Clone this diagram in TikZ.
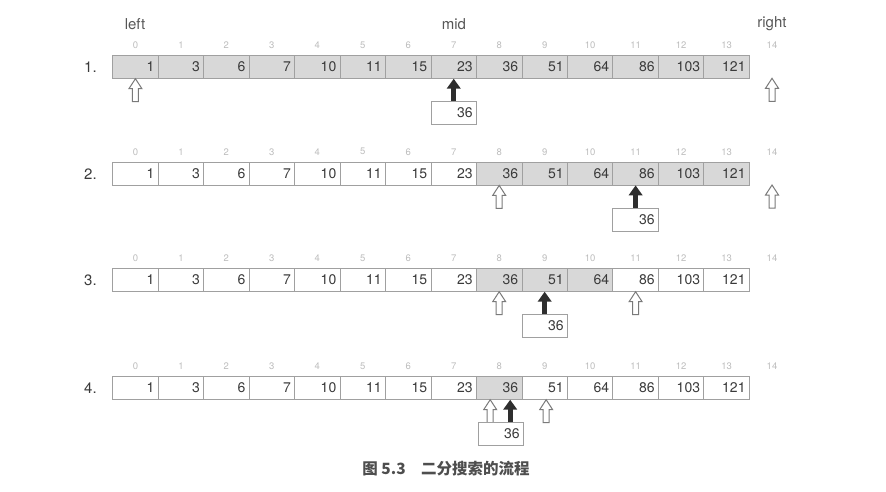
\documentclass[tikz,border=0pt]{standalone}
\usepackage{fontspec}
\setmainfont{TeX Gyre Heros}
\newfontfamily\cjk{Noto Sans CJK SC}
\usetikzlibrary{arrows.meta,calc}
\definecolor{txt}{HTML}{3A3A3A}
\definecolor{shade}{HTML}{D8D8D8}
\definecolor{bord}{HTML}{A0A0A0}
\definecolor{idx}{HTML}{BDBDBD}
\definecolor{dark}{HTML}{2E2E2E}
\definecolor{hollowc}{HTML}{7A7A7A}
\tikzset{
  cell/.style={draw=bord, line width=0.8pt, fill=white, text width=37.97pt,
    inner xsep=3.75pt, inner ysep=0pt, minimum height=22.6pt, align=right,
    font=\fontsize{14}{14}\selectfont, text=txt},
  idxlab/.style={font=\fontsize{9.5}{9.5}\selectfont, text=idx, inner sep=0pt},
  toplab/.style={font=\fontsize{15}{15}\selectfont, text=txt!85, inner sep=0pt},
  rowlab/.style={font=\fontsize{15}{15}\selectfont, text=txt, inner sep=0pt, anchor=west},
  hollow/.style={draw=hollowc, line width=1pt, fill=white, line join=miter},
  midarrow/.style={draw=dark, line width=5pt, -{Triangle[length=10pt,width=13.5pt]}},
  hollowup/.pic={\draw[hollow] (0,0) -- (6.5,10) -- (3,10) -- (3,23) -- (-3,23) -- (-3,10) -- (-6.5,10) -- cycle;}
}
\begin{document}
\begin{tikzpicture}[x=1pt,y=-1pt]
\useasboundingbox (0,0) rectangle (886,491);
% top labels
\node[toplab] (lleft) at (135,24) {left};
\node[toplab] (lmid) at (454,24) {mid};
\node[toplab] (lright) at (772,24) {right};
% rows
\foreach \r/\yc/\lo/\hi in {1/67/0/13, 2/173.7/8/13, 3/280/8/10, 4/388/8/8}{
  \node[rowlab] (n\r) at (84,\yc) {\r.};
  \foreach \v [count=\i from 0] in {1,3,6,7,10,11,15,23,36,51,64,86,103,121}{
    \pgfmathsetmacro\cx{112.7+(\i+0.5)*45.47}
    \ifnum\i<\lo \def\fc{white}\else\ifnum\i>\hi \def\fc{white}\else\def\fc{shade}\fi\fi
    \node[cell, fill=\fc] (r\r-\i) at (\cx,\yc) {\v};
  }
  \foreach \i in {0,...,14}{
    \pgfmathsetmacro\cx{112.7+(\i+0.5)*45.47}
    \node[idxlab] (i\r-\i) at (\cx,\yc-22) {\i};
  }
  \coordinate (p\r-14) at ({112.7+14.5*45.47},\yc+11.3);
}
% row 1
\pic at (r1-0.south) {hollowup};
\pic at (p1-14) {hollowup};
\node[cell, anchor=north] (b1) at ([yshift=-22.5pt]r1-7.south) {36};
\draw[midarrow] (b1.north) -- (r1-7.south);
% row 2
\pic at (r2-8.south) {hollowup};
\pic at (p2-14) {hollowup};
\node[cell, anchor=north] (b2) at ([yshift=-22.5pt]r2-11.south) {36};
\draw[midarrow] (b2.north) -- (r2-11.south);
% row 3
\pic at (r3-8.south) {hollowup};
\pic at (r3-11.south) {hollowup};
\node[cell, anchor=north] (b3) at ([yshift=-22.5pt]r3-9.south) {36};
\draw[midarrow] (b3.north) -- (r3-9.south);
% row 4
\pic at ([xshift=-9pt]r4-8.south) {hollowup};
\pic at ([xshift=1.5pt]r4-9.south) {hollowup};
\node[cell, anchor=north] (b4) at ([xshift=1.5pt,yshift=-22.5pt]r4-8.south) {36};
\draw[midarrow] ([xshift=9.5pt]b4.north) -- ([xshift=11pt]r4-8.south);
% caption
\node[font=\cjk\bfseries\fontsize{15.5}{15.5}\selectfont, text=txt!90, inner sep=0pt] (cap) at (446,469) {图 5.3\hspace{1em}二分搜索的流程};
\end{tikzpicture}
\end{document}
